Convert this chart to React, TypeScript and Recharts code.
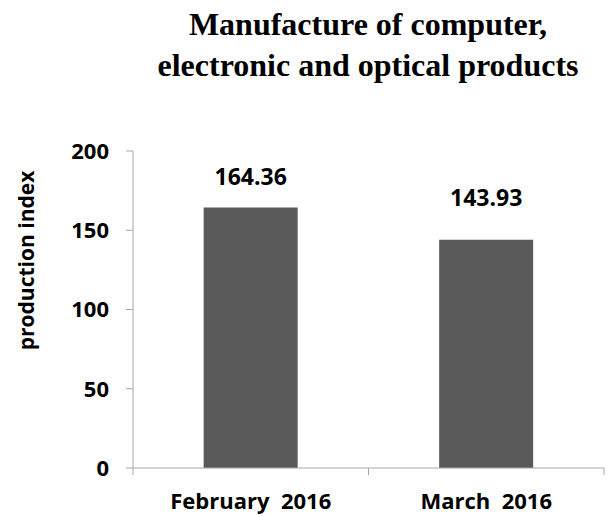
import React from "react";
import { Bar, BarChart, LabelList, XAxis, YAxis } from "recharts";

const months = ["February  2016", "March  2016"];
const productionIndex = [164.36, 143.93];
const yTicks = [0, 50, 100, 150, 200];

const data = months.map((month, i) => ({ month, value: productionIndex[i] }));

const sans = "'Open Sans', 'Liberation Sans', sans-serif";
const axisGray = "#a6a6a6";
// labels sit a bit differently above each bar in the original
const labelGap = [22, 34];

const XTick = (props: any) => {
  const { x, y, payload, index, visibleTicksCount } = props;
  const half = payload.offset || 117.75;
  const last = index === (visibleTicksCount ?? 2) - 1;
  return (
    <g>
      <line x1={x - half} y1={y} x2={x - half} y2={y + 7} stroke={axisGray} />
      {last && <line x1={x + half} y1={y} x2={x + half} y2={y + 7} stroke={axisGray} />}
      <text
        x={x}
        y={y + 41}
        textAnchor="middle"
        fontFamily={sans}
        fontWeight="bold"
        fontSize={22}
        fill="#000"
        style={{ whiteSpace: "pre" }}
      >
        {payload.value}
      </text>
    </g>
  );
};

const YLabel = (props: any) => {
  const vb = props.viewBox;
  const cx = vb.x + 26;
  const cy = vb.y + vb.height / 2 - 49;
  return (
    <text
      x={cx}
      y={cy}
      transform={`rotate(-90 ${cx} ${cy})`}
      textAnchor="middle"
      dominantBaseline="central"
      fontFamily={sans}
      fontWeight="bold"
      fontSize={21}
      fill="#000"
    >
      production index
    </text>
  );
};

const ValueLabel = (props: any) => {
  const { x, y, width, value, index } = props;
  return (
    <text
      x={x + width / 2}
      y={y - labelGap[index]}
      textAnchor="middle"
      fontFamily={sans}
      fontWeight="bold"
      fontSize={23}
      fill="#000"
    >
      {value.toFixed(2)}
    </text>
  );
};

export default function App() {
  return (
    <div style={{ position: "absolute", left: 0, top: 0, width: 610, height: 516, background: "#fff" }}>
      <div
        style={{
          position: "absolute",
          left: 0,
          top: 4,
          width: 736,
          textAlign: "center",
          fontFamily: "'Liberation Serif', 'Times New Roman', serif",
          fontWeight: "bold",
          fontSize: 32,
          lineHeight: "41px",
        }}
      >
        Manufacture of computer,
        <br />
        electronic and optical products
      </div>
      <BarChart
        width={610}
        height={516}
        data={data}
        margin={{ top: 151, right: 6, bottom: 0, left: 0 }}
        barCategoryGap="30%"
      >
        <XAxis
          dataKey="month"
          stroke={axisGray}
          tickLine={false}
          tickSize={0}
          tickMargin={0}
          tick={<XTick />}
          height={48}
          interval={0}
        />
        <YAxis
          width={133}
          domain={[0, 200]}
          ticks={yTicks}
          stroke={axisGray}
          tickSize={7}
          tickMargin={17}
          tick={{ fontFamily: sans, fontWeight: "bold", fontSize: 22, fill: "#000" }}
          label={<YLabel />}
          interval={0}
        />
        <Bar dataKey="value" fill="#595959" isAnimationActive={false}>
          <LabelList dataKey="value" content={<ValueLabel />} />
        </Bar>
      </BarChart>
    </div>
  );
}
